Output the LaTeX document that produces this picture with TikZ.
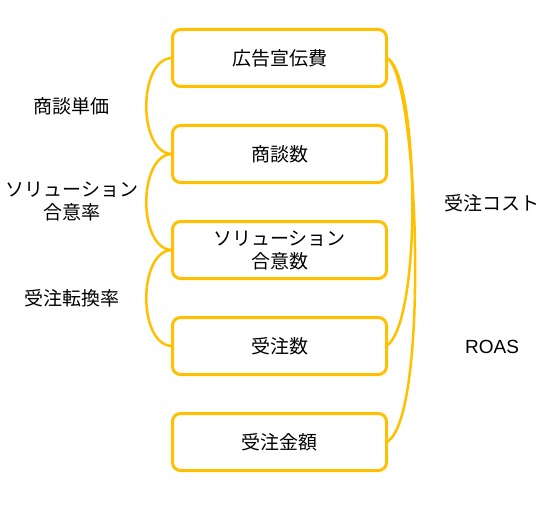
\documentclass[tikz,border=0pt]{standalone}
\usepackage{fontspec}
\setmainfont{Noto Sans CJK JP}
\newfontfamily\latinfont{Liberation Sans}
\usetikzlibrary{positioning}
\definecolor{kpiyellow}{RGB}{255,192,0}

\begin{document}
\begin{tikzpicture}[
  x=1pt, y=1pt,
  box/.style={draw=kpiyellow, fill=white, line width=3pt, rounded corners=8pt,
    minimum width=214pt, minimum height=57pt, inner sep=0pt, outer sep=0pt,
    align=center},
  lbl/.style={align=center},
  font=\fontsize{19}{23}\selectfont]

\tikzset{link/.style={draw=kpiyellow, line width=2.5pt}}

  \useasboundingbox (0,0) rectangle (547,-511);

  \node[box] (b1) at (279.5,-58) {広告宣伝費};
  \node[box, below=39pt of b1] (b2) {商談数};
  \node[box, below=39pt of b2] (b3) {ソリューション\\合意数};
  \node[box, below=39pt of b3] (b4) {受注数};
  \node[box, below=39pt of b4] (b5) {受注金額};

  \node[lbl] (tanka) at (72,-106) {商談単価};
  \node[lbl] (goi) at (72,-201) {ソリューション\\合意率};
  \node[lbl] (tenkan) at (72,-298) {受注転換率};
  \node[lbl] (cost) at (492,-203) {受注コスト};
  \node[lbl] (roas) at (492,-347) {\latinfont ROAS};

  % left brackets
  \draw[link] (b1.west) .. controls +(-35,0) and +(-35,0) .. (b2.west);
  \draw[link] (b2.west) .. controls +(-35,0) and +(-35,0) .. (b3.west);
  \draw[link] (b3.west) .. controls +(-35,0) and +(-35,0) .. (b4.west);

  % right brackets
  \draw[link] (b1.east) .. controls +(32,-12) and +(37,25) .. (b4.east);
  \draw[link] (b1.east) .. controls +(32,-12) and +(44,21) .. (b5.east);
\end{tikzpicture}
\end{document}
